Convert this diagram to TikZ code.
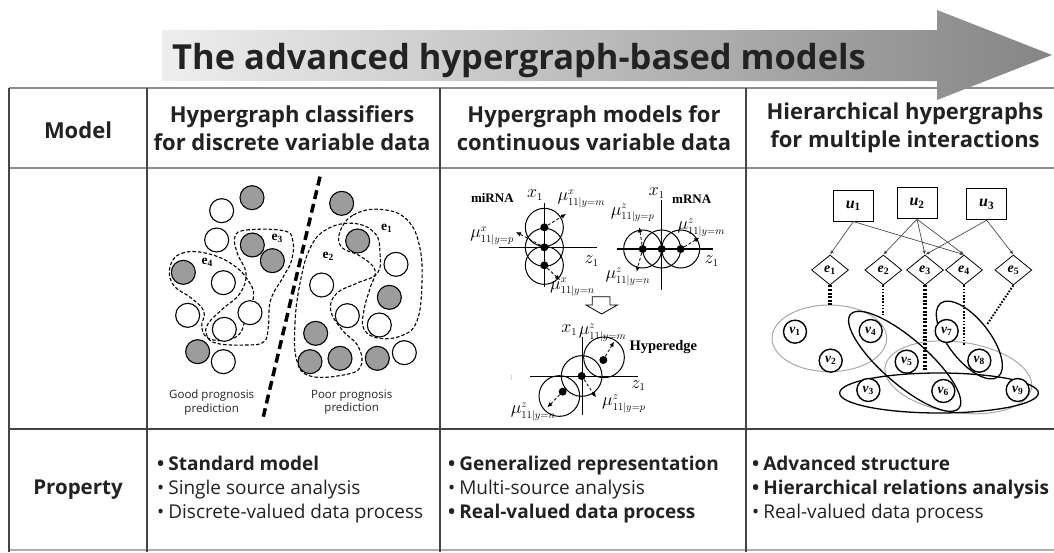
\RequirePackage{fix-cm}
\documentclass[tikz,border=0pt]{standalone}
\usepackage{fontspec}
\newfontfamily\hdr{Open Sans}
\newfontfamily\tms{Liberation Serif}
\usetikzlibrary{arrows.meta,shapes.geometric}

\definecolor{ink}{HTML}{222222}
\definecolor{rule}{HTML}{444444}
\definecolor{softrule}{HTML}{8C8C8C}
\definecolor{ballgray}{HTML}{9C9C9C}
\definecolor{arrowlight}{HTML}{EEEEEE}
\definecolor{arrowdark}{HTML}{858585}
\definecolor{ringgray}{HTML}{A8A8A8}

% subscripted serif labels
\newcommand\bsub[2]{{\tms\bfseries\itshape #1}\textsubscript{\tms\bfseries #2}}
\newcommand\esub[2]{{\tms\bfseries #1}\textsubscript{\tms\bfseries #2}}
% large symbol with small indices
\newcommand\idxfont{\fontsize{10.5}{12}\selectfont}
\newcommand\mean[2]{$\mu^{\hbox{\idxfont$#1$}}_{\hbox{\idxfont$11|y{=}#2$}}$}
\newcommand\axis[2]{$#1_{\hbox{\idxfont$#2$}}$}
\newcommand\bul{•\hspace{4pt}}

\begin{document}
\begin{tikzpicture}[x=1pt,y=-1pt,
  hdrtxt/.style={font=\hdr\bfseries\fontsize{22}{28}\selectfont, text=ink, align=center, inner sep=0pt},
  proptxt/.style={font=\hdr\fontsize{19}{24}\selectfont, text=ink, align=left, inner sep=0pt, anchor=west},
  ball/.style={circle, draw=black, line width=1.1pt, minimum size=24pt, inner sep=0pt},
  grayball/.style={ball, fill=ballgray},
  whiteball/.style={ball, fill=white},
  hedge/.style={line width=1.1pt, dash pattern=on 3.5pt off 2pt},
  elab/.style={font=\fontsize{13.5}{15}\selectfont, inner sep=0pt},
  mlab/.style={font=\fontsize{18}{20}\selectfont, inner sep=0pt},
  slab/.style={font=\tms\bfseries\fontsize{13}{15}\selectfont, inner sep=0pt},
  axisline/.style={line width=1.1pt},
  ring/.style={line width=1pt},
  dot/.style={circle, fill=black, minimum size=8pt, inner sep=0pt},
  darr/.style={line width=0.8pt, densely dashed, -{Latex[length=5pt,width=4.5pt]}},
  ubox/.style={draw, line width=0.8pt, minimum width=40pt, minimum height=31pt, inner sep=0pt, font=\fontsize{16}{18}\selectfont},
  ebox/.style={diamond, draw, line width=0.8pt, minimum width=37pt, minimum height=30pt, inner sep=0pt, aspect=1.25, font=\fontsize{14}{16}\selectfont},
  vball/.style={circle, draw, line width=1.4pt, minimum size=23pt, inner sep=0pt, font=\fontsize{13.5}{15}\selectfont},
  uarr/.style={draw=black!70, line width=0.7pt, -{Latex[length=4pt,width=3.5pt]}},
  thickdots/.style={line width=3.5pt, dash pattern=on 2pt off 1.6pt},
  thindots/.style={line width=2pt, dash pattern=on 1.6pt off 1.6pt}
]
\useasboundingbox (0,0) rectangle (1054,552);

% ---- table rules ----
\draw[softrule, line width=1.6pt] (9,88) -- (1054,88);
\draw[softrule, line width=1.6pt] (9,168) -- (1054,168);
\draw[rule, line width=1.4pt] (9,429) -- (1054,429);
\draw[softrule!70, line width=1.2pt] (9,550) -- (1054,550);
\foreach \cx in {9,147,440,746} {
  \draw[rule, line width=1.1pt] (\cx,88) -- (\cx,552);
}

% ---- title arrow ----
\shade[left color=arrowlight, right color=arrowdark]
  (162,30) -- (937,30) -- (937,10) -- (1052,55) -- (937,100) -- (937,81) -- (162,81) -- cycle;
\node[anchor=base west, font=\hdr\bfseries\fontsize{34.5}{40}\selectfont, text=ink, inner sep=0pt]
  (title) at (172,69) {The advanced hypergraph-based models};

% ---- header row ----
\node[hdrtxt] (hmodel) at (78,130) {Model};
\node[hdrtxt] (hcol1) at (292,128) {Hypergraph classifiers\\for discrete variable data};
\node[hdrtxt] (hcol2) at (594,128) {Hypergraph models for\\continuous variable data};
\node[hdrtxt] (hcol3) at (905,128) {Hierarchical hypergraphs\\for multiple interactions};

% ---- property row ----
\node[hdrtxt, font=\hdr\bfseries\fontsize{20.5}{28}\selectfont] (hprop) at (78,490) {Property};
\node[proptxt] (prop1) at (157,490) {\textbf{\bul Standard model}\\\bul Single source analysis\\\bul Discrete-valued data process};
\node[proptxt] (prop2) at (448,490) {\textbf{\bul Generalized representation}\\\bul Multi-source analysis\\\textbf{\bul Real-valued data process}};
\node[proptxt] (prop3) at (752,490) {\textbf{\bul Advanced structure}\\\textbf{\bul Hierarchical relations analysis}\\\bul Real-valued data process};

% ---- discrete classifier panel ----
\begin{scope}[shift={(140,170)}, scale=1/3]
  % hyperedges
  \draw[hedge] plot[smooth cycle, tension=0.7] coordinates {(600,185) (640,135) (720,118) (800,148) (840,235) (845,360) (830,455) (790,495) (720,505) (672,478) (672,420) (690,355) (705,300) (660,258) (605,232)};
  \draw[hedge] plot[smooth cycle, tension=0.7] coordinates {(470,570) (465,460) (480,340) (510,235) (560,178) (640,160) (705,190) (720,250) (712,310) (650,340) (590,370) (572,420) (605,478) (655,530) (662,590) (610,615) (510,618)};
  \draw[hedge] plot[smooth cycle, tension=0.7] coordinates {(285,200) (320,180) (430,182) (458,210) (455,270) (430,320) (392,390) (385,470) (372,515) (320,525) (230,520) (200,495) (205,460) (250,415) (300,370) (318,310) (292,250)};
  \draw[hedge] plot[smooth cycle, tension=0.7] coordinates {(90,290) (125,250) (200,250) (280,285) (330,340) (340,385) (318,440) (300,490) (260,510) (205,505) (185,470) (192,425) (155,385) (100,345)};
  % class boundary
  \draw[line width=3.5pt, dash pattern=on 9pt off 5pt] (540,20) -- (370,740);
  % samples
  \foreach \p [count=\i] in {(336,83),(130,307),(337,225),(397,272),(605,100),(653,213),(748,382),(527,490),(510,575),(600,565),(712,565),(173,545)} {
    \node[grayball] (g\i) at \p {};
  }
  \foreach \p [count=\i] in {(245,122),(230,210),(250,338),(143,436),(330,428),(253,478),(250,575),(768,283),(545,345),(622,437),(718,465),(793,548)} {
    \node[whiteball] (w\i) at \p {};
  }
  \node[elab] (le1) at (740,175) {\esub{e}{1}};
  \node[elab] (le2) at (565,258) {\esub{e}{2}};
  \node[elab] (le3) at (412,205) {\esub{e}{3}};
  \node[elab] (le4) at (202,278) {\esub{e}{4}};
  \node[font=\hdr\fontsize{11.5}{13.5}\selectfont, align=center, text=ink, inner sep=0pt] (good) at (215,697) {Good prognosis\\prediction};
  \node[font=\hdr\fontsize{11.5}{13.5}\selectfont, align=center, text=ink, inner sep=0pt] (poor) at (635,697) {Poor prognosis\\prediction};
\end{scope}

% ---- continuous model panel, top ----
\begin{scope}[shift={(440,170)}, scale=1/3]
  % miRNA cross
  \draw[axisline] (313,100) -- (313,350);
  \draw[axisline] (178,232) -- (470,232);
  \draw[ring] (313,172) circle[radius=57pt];
  \draw[ring] (313,232) circle[radius=57pt];
  \draw[ring] (313,286) circle[radius=57pt];
  \node[dot] (ma) at (313,172) {};
  \node[dot] (mb) at (313,232) {};
  \node[dot] (mc) at (313,286) {};
  \coordinate (mat) at (378,132);
  \coordinate (mbt) at (228,186);
  \coordinate (mct) at (360,330);
  \draw[darr] (ma) -- (mat);
  \draw[darr] (mb) -- (mbt);
  \draw[darr] (mc) -- (mct);
  \node[slab] (mirna) at (157,85) {miRNA};
  \node[mlab] (xa) at (285,76) {\axis{x}{1}};
  \node[mlab, anchor=west] (mua) at (352,86) {\mean{x}{m}};
  \node[mlab, anchor=east] (mub) at (222,197) {\mean{x}{p}};
  \node[mlab, anchor=west] (muc) at (330,352) {\mean{x}{n}};
  \node[mlab] (za) at (455,274) {\axis{z}{1}};
  % mRNA cross
  \draw[axisline] (665,90) -- (665,360);
  \draw[axisline] (530,237) -- (820,237);
  \draw[ring] (608,237) circle[radius=57pt];
  \draw[ring] (665,237) circle[radius=57pt];
  \draw[ring] (722,237) circle[radius=57pt];
  \node[dot] (ra) at (608,237) {};
  \node[dot] (rb) at (665,237) {};
  \node[dot] (rc) at (722,237) {};
  \coordinate (rat) at (598,172);
  \coordinate (rau) at (590,305);
  \coordinate (rct) at (778,203);
  \draw[darr] (ra) -- (rat);
  \draw[darr] (ra) -- (rau);
  \draw[darr] (rc) -- (rct);
  \node[mlab] (xb) at (650,70) {\axis{x}{1}};
  \node[slab] (mrna) at (755,88) {mRNA};
  \node[mlab, anchor=west] (mud) at (512,130) {\mean{z}{p}};
  \node[mlab, anchor=west] (mue) at (712,174) {\mean{z}{m}};
  \node[mlab, anchor=west] (muf) at (496,320) {\mean{z}{n}};
  \node[mlab] (zb) at (815,274) {\axis{z}{1}};
\end{scope}

% ---- continuous model panel, merged hyperedge ----
\begin{scope}[shift={(440,290)}, scale=1/3]
  % hollow down arrow
  \draw[line width=0.8pt, fill=white] (457,20) -- (510,20) -- (510,45) -- (532,45) -- (485,72) -- (438,45) -- (457,45) -- cycle;
  \draw[axisline] (428,140) -- (428,375);
  \draw[axisline] (270,260) -- (595,260);
  \draw[ring] (492,202) circle[radius=61pt];
  \draw[ring] (425,258) circle[radius=61pt];
  \draw[ring] (358,318) circle[radius=61pt];
  \node[dot] (ha) at (490,210) {};
  \node[dot] (hb) at (425,258) {};
  \node[dot] (hc) at (368,305) {};
  \coordinate (hat) at (522,155);
  \coordinate (hbt) at (468,322);
  \coordinate (hct) at (322,352);
  \draw[darr] (ha) -- (hat);
  \draw[darr] (hb) -- (hbt);
  \draw[darr] (hc) -- (hct);
  \node[mlab] (xc) at (388,120) {\axis{x}{1}};
  \node[mlab, anchor=west] (mug) at (416,128) {\mean{z}{m}};
  \node[slab, font=\tms\bfseries\fontsize{14.5}{16}\selectfont] (hyp) at (670,172) {Hyperedge};
  \node[mlab] (zc) at (595,287) {\axis{z}{1}};
  \node[mlab, anchor=west] (muh) at (486,342) {\mean{z}{p}};
  \node[mlab, anchor=west] (mui) at (212,366) {\mean{z}{n}};
  \node[font=\fontsize{8}{9}\selectfont, inner sep=0pt] (colon) at (215,262) {:};
\end{scope}

% ---- hierarchical hypergraph panel ----
\begin{scope}[shift={(740,170)}, scale=1/3]
  % vertex sets
  \draw[ringgray, line width=1pt] (268,505) ellipse[x radius=172pt, y radius=100pt];
  \draw[ringgray, line width=1pt, rotate around={-8:(655,622)}] (655,622) ellipse[x radius=222pt, y radius=106pt];
  \draw[line width=1.3pt, rotate around={-41:(494,574)}] (494,574) ellipse[x radius=215pt, y radius=68pt];
  \draw[line width=1.3pt, rotate around={-52:(688,510)}] (688,510) ellipse[x radius=140pt, y radius=62pt];
  \draw[line width=1.3pt] (597,669) ellipse[x radius=298pt, y radius=60pt];
  % vertices
  \node[vball, fill=white] (v1) at (165,485) {\bsub{v}{1}};
  \node[vball, fill=white] (v2) at (272,572) {\bsub{v}{2}};
  \node[vball, fill=white] (v3) at (385,660) {\bsub{v}{3}};
  \node[vball, fill=white] (v4) at (392,483) {\bsub{v}{4}};
  \node[vball, fill=white] (v5) at (500,575) {\bsub{v}{5}};
  \node[vball, fill=white] (v6) at (610,663) {\bsub{v}{6}};
  \node[vball, fill=white] (v7) at (620,483) {\bsub{v}{7}};
  \node[vball, fill=white] (v8) at (718,572) {\bsub{v}{8}};
  \node[vball, fill=white] (v9) at (833,660) {\bsub{v}{9}};
  % upper-level units
  \node[ubox] (u1) at (340,107) {\bsub{u}{1}};
  \node[ubox] (u2) at (531,100) {\bsub{u}{2}};
  \node[ubox] (u3) at (740,103) {\bsub{u}{3}};
  % hyperedges
  \node[ebox] (d1) at (270,300) {\bsub{e}{1}};
  \node[ebox] (d2) at (430,300) {\bsub{e}{2}};
  \node[ebox] (d3) at (555,300) {\bsub{e}{3}};
  \node[ebox] (d4) at (672,300) {\bsub{e}{4}};
  \node[ebox] (d5) at (820,300) {\bsub{e}{5}};
  % unit-to-hyperedge links
  \draw[uarr] (u1.south) -- (d1.north);
  \draw[uarr] (u1.south) -- (d4.north);
  \draw[uarr] (u2.south) -- (d2.north);
  \draw[uarr] (u2.south) -- (d3.north);
  \draw[uarr] (u2.south) -- (d4.north);
  \draw[uarr] (u3.south) -- ([xshift=1.5pt]d3.north);
  \draw[uarr] (u3.south) -- (d5.north);
  % hyperedge-to-vertex-set links
  \coordinate (s1) at (270,405);
  \coordinate (s2) at (430,435);
  \coordinate (s3) at (555,605);
  \coordinate (s4) at (672,525);
  \coordinate (s5) at (740,465);
  \draw[thickdots] (d1.south) -- (s1);
  \draw[thindots] (d2.south) -- (s2);
  \draw[thickdots] (d3.south) -- (s3);
  \draw[thindots] (d4.south) -- (s4);
  \draw[thindots] (d5.south) -- (s5);
\end{scope}
\end{tikzpicture}
\end{document}
